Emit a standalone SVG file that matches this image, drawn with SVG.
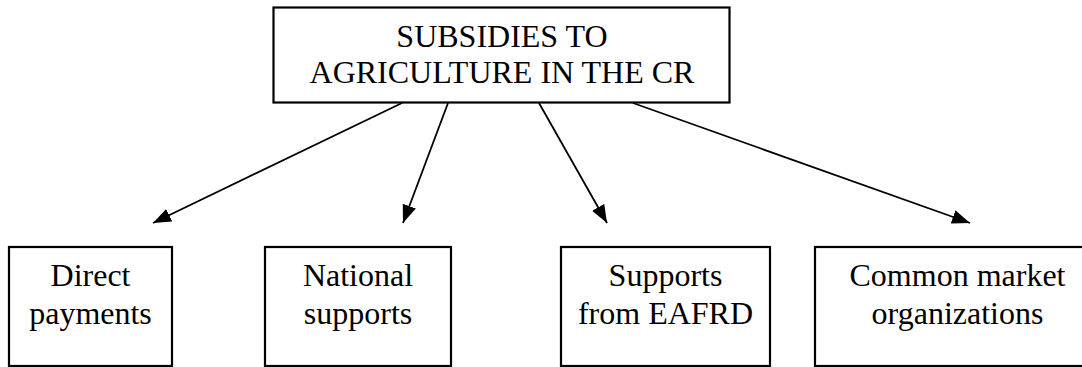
<svg xmlns="http://www.w3.org/2000/svg" width="1082" height="367" viewBox="0 0 1082 367">
<style>
.box{fill:#fff;stroke:#000;stroke-width:2.2}
.t{font-family:"Liberation Serif","Times New Roman",serif;font-size:32px;fill:#000;text-anchor:middle}
.c{stroke:#000;stroke-width:1.8;fill:none;marker-end:url(#ah)}
</style>
<defs>
<marker id="ah" markerUnits="userSpaceOnUse" markerWidth="20" markerHeight="16" refX="18" refY="7" orient="auto" viewBox="0 0 20 16">
<path d="M0,0 L18,7 L0,14 z" fill="#000"/>
</marker>
</defs>
<rect width="1082" height="367" fill="#fff"/>
<g id="root">
<rect class="box" x="273.5" y="7.5" width="456" height="95"/>
<text class="t" x="502" y="47">SUBSIDIES TO</text>
<text class="t" x="502" y="83">AGRICULTURE IN THE CR</text>
</g>
<g id="direct">
<rect class="box" x="9" y="247" width="163" height="119"/>
<text class="t" x="90.5" y="286">Direct</text>
<text class="t" x="90.5" y="324">payments</text>
</g>
<g id="national">
<rect class="box" x="265" y="247" width="186" height="119"/>
<text class="t" x="358" y="286">National</text>
<text class="t" x="358" y="324">supports</text>
</g>
<g id="eafrd">
<rect class="box" x="561" y="247" width="209" height="119"/>
<text class="t" x="665.5" y="286">Supports</text>
<text class="t" x="665.5" y="324">from EAFRD</text>
</g>
<g id="cmo">
<rect class="box" x="815" y="247" width="285" height="119"/>
<text class="t" x="957.5" y="286">Common market</text>
<text class="t" x="957.5" y="324">organizations</text>
</g>
<g id="connectors">
<line class="c" x1="402" y1="103" x2="153" y2="223"/>
<line class="c" x1="448" y1="103" x2="403" y2="223"/>
<line class="c" x1="539" y1="103" x2="607" y2="223"/>
<line class="c" x1="633" y1="103" x2="970" y2="223"/>
</g>
</svg>
